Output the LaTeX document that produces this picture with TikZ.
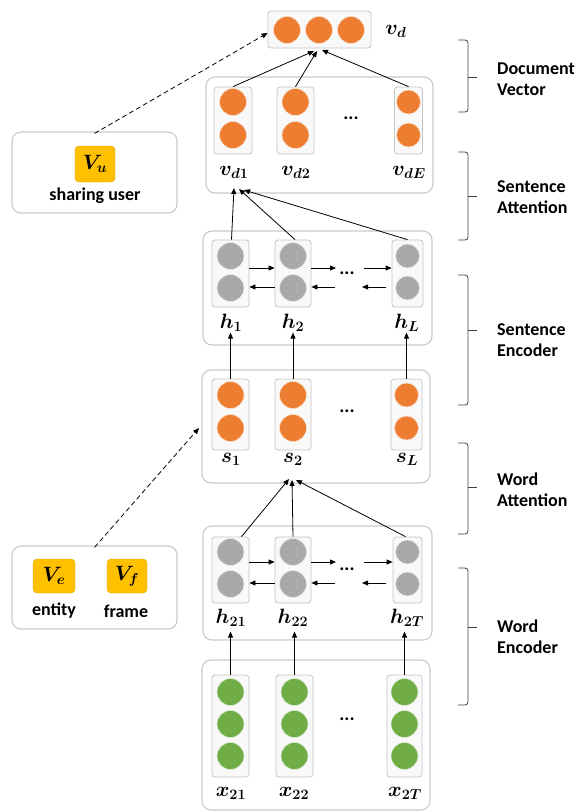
\documentclass[tikz,border=0pt]{standalone}
\usepackage{fontspec}
\setmainfont{Carlito}
\usepackage{bm}
\usetikzlibrary{arrows.meta,calc}
\definecolor{orangeC}{HTML}{ED7D31}
\definecolor{grayC}{HTML}{A9A9A9}
\definecolor{greenC}{HTML}{70AD47}
\definecolor{goldC}{HTML}{FFC000}
\definecolor{boxgray}{HTML}{CACACA}
\definecolor{colgray}{HTML}{C4C4C4}
\definecolor{colfill}{HTML}{F9F9F9}
\definecolor{bracegray}{HTML}{404040}
\begin{document}
\begin{tikzpicture}[x=1pt,y=-1pt,
  outer/.style={draw=boxgray, line width=1.1pt, rounded corners=9pt, fill=white},
  col/.style={draw=colgray, line width=0.8pt, rounded corners=3pt, fill=colfill, inner sep=0pt},
  dot/.style={circle, fill=#1, draw=white!75!#1, line width=0.6pt, inner sep=0pt, minimum size=27pt},
  sdot/.style={dot=#1, minimum size=24pt},
  ybox/.style={fill=goldC, draw=goldC!85!black, line width=0.4pt, rounded corners=4pt, inner sep=0pt},
  mlab/.style={font=\fontsize{19.5}{22}\selectfont, inner sep=0pt},
  lab/.style={font=\fontsize{18}{21}\selectfont\bfseries, inner sep=0pt},
  blab/.style={font=\fontsize{18}{21}\selectfont\bfseries, inner sep=0pt, align=left, anchor=west},
  dots/.style={font=\fontsize{19}{20}\selectfont\bfseries, inner sep=0pt},
  arr/.style={-{Triangle[length=6pt,width=5pt]}, line width=0.8pt, black},
  darr/.style={-{Triangle[length=6pt,width=5pt]}, line width=0.8pt, black, dash pattern=on 5pt off 3pt},
  brace/.style={draw=bracegray, line width=0.8pt, rounded corners=3pt}
]
\useasboundingbox (0,0) rectangle (579,812);

% ---------- top document vector ----------
\node[col, minimum width=103pt, minimum height=37pt] (vd) at (319.5,29.5) {};
\node[dot=orangeC] (vda) at (287,30) {};
\node[dot=orangeC] (vdb) at (319,30) {};
\node[dot=orangeC] (vdc) at (351,30) {};
\node[mlab] (lvd) at (396,31) {$\bm{v_d}$};

% ---------- document layer ----------
\node[outer, minimum width=227pt, minimum height=116pt] (dbox) at (319.5,135) {};
\node[col, minimum width=38pt, minimum height=67pt] (vd1) at (233,120.5) {};
\node[dot=orangeC] (vd1a) at (233,102) {};
\node[dot=orangeC] (vd1b) at (233,135) {};
\node[col, minimum width=37pt, minimum height=67pt] (vd2) at (295.5,120.5) {};
\node[dot=orangeC] (vd2a) at (295.5,102) {};
\node[dot=orangeC] (vd2b) at (295.5,135) {};
\node[col, minimum width=28pt, minimum height=67pt] (vdE) at (408.5,120.5) {};
\node[sdot=orangeC] (vdEa) at (408.5,102) {};
\node[sdot=orangeC] (vdEb) at (408.5,135) {};
\node[dots] (ddots) at (351,118) {...};
\node[mlab] (lvd1) at (234,172) {$\bm{v_{d1}}$};
\node[mlab] (lvd2) at (296,172) {$\bm{v_{d2}}$};
\node[mlab] (lvdE) at (409,172) {$\bm{v_{dE}}$};

% ---------- sentence encoder layer ----------
\node[outer, minimum width=229pt, minimum height=114pt] (hbox) at (317.5,288) {};
\node[col, minimum width=37pt, minimum height=67pt] (h1) at (230.5,273.5) {};
\node[dot=grayC] (h1a) at (230.5,256) {};
\node[dot=grayC] (h1b) at (230.5,288) {};
\node[col, minimum width=36pt, minimum height=67pt] (h2) at (293,273.5) {};
\node[dot=grayC] (h2a) at (293,256) {};
\node[dot=grayC] (h2b) at (293,288) {};
\node[col, minimum width=31pt, minimum height=67pt] (hL) at (407.5,273.5) {};
\node[sdot=grayC] (hLa) at (407.5,256) {};
\node[sdot=grayC] (hLb) at (407.5,288) {};
\node[dots] (hdots) at (347,273) {...};
\coordinate (hf1) at (336,268);
\coordinate (hf2) at (364,268);
\coordinate (hb1) at (335,287);
\coordinate (hb2) at (386,287);
\draw[arr] (h1.east |- hf1) -- (h2.west |- hf1);
\draw[arr] (h2.east |- hf1) -- (hf1);
\draw[arr] (hf2) -- (hL.west |- hf2);
\draw[arr] (h2.west |- hb1) -- (h1.east |- hb1);
\draw[arr] (hb1) -- (h2.east |- hb1);
\draw[arr] (hb2) -- ($(hb2)+(-24,0)$) coordinate (hb3);
\node[mlab] (lh1) at (231,323) {$\bm{h_1}$};
\node[mlab] (lh2) at (293,323) {$\bm{h_2}$};
\node[mlab] (lhL) at (407,323) {$\bm{h_L}$};

% ---------- sentence vectors ----------
\node[outer, minimum width=228pt, minimum height=113pt] (sbox) at (316,426.5) {};
\node[col, minimum width=37pt, minimum height=71pt] (s1) at (230.5,414.5) {};
\node[dot=orangeC] (s1a) at (230.5,395) {};
\node[dot=orangeC] (s1b) at (230.5,428) {};
\node[col, minimum width=36pt, minimum height=71pt] (s2) at (293,414.5) {};
\node[dot=orangeC] (s2a) at (293,395) {};
\node[dot=orangeC] (s2b) at (293,428) {};
\node[col, minimum width=31pt, minimum height=71pt] (sL) at (406.5,414.5) {};
\node[sdot=orangeC] (sLa) at (406.5,395) {};
\node[sdot=orangeC] (sLb) at (406.5,428) {};
\node[dots] (sdots) at (347,411) {...};
\node[mlab] (ls1) at (231,459) {$\bm{s_1}$};
\node[mlab] (ls2) at (293,459) {$\bm{s_2}$};
\node[mlab] (lsL) at (407,459) {$\bm{s_L}$};

% ---------- word encoder layer ----------
\node[outer, minimum width=229pt, minimum height=114pt] (wbox) at (317.5,583) {};
\node[col, minimum width=37pt, minimum height=66pt] (h21) at (230.5,570) {};
\node[dot=grayC] (h21a) at (230.5,552) {};
\node[dot=grayC] (h21b) at (230.5,584) {};
\node[col, minimum width=36pt, minimum height=66pt] (h22) at (293,570) {};
\node[dot=grayC] (h22a) at (293,552) {};
\node[dot=grayC] (h22b) at (293,584) {};
\node[col, minimum width=29pt, minimum height=66pt] (h2T) at (407.5,570) {};
\node[sdot=grayC] (h2Ta) at (407.5,552) {};
\node[sdot=grayC] (h2Tb) at (407.5,584) {};
\node[dots] (wdots) at (347,569) {...};
\coordinate (wf1) at (336,562);
\coordinate (wf2) at (364,562);
\coordinate (wb1) at (335,583);
\coordinate (wb2) at (386,583);
\draw[arr] (h21.east |- wf1) -- (h22.west |- wf1);
\draw[arr] (h22.east |- wf1) -- (wf1);
\draw[arr] (wf2) -- (h2T.west |- wf2);
\draw[arr] (h22.west |- wb1) -- (h21.east |- wb1);
\draw[arr] (wb1) -- (h22.east |- wb1);
\draw[arr] (wb2) -- ($(wb2)+(-24,0)$) coordinate (wb3);
\node[mlab] (lh21) at (231,618) {$\bm{h_{21}}$};
\node[mlab] (lh22) at (293,618) {$\bm{h_{22}}$};
\node[mlab] (lh2T) at (407,618) {$\bm{h_{2T}}$};

% ---------- word vectors ----------
\node[outer, minimum width=228pt, minimum height=150pt] (xbox) at (316,735) {};
\node[col, minimum width=37pt, minimum height=102pt] (x21) at (230.5,726) {};
\node[dot=greenC] (x21a) at (230.5,692) {};
\node[dot=greenC] (x21b) at (230.5,724) {};
\node[dot=greenC] (x21c) at (230.5,756) {};
\node[col, minimum width=37pt, minimum height=102pt] (x22) at (294.5,726) {};
\node[dot=greenC] (x22a) at (294.5,692) {};
\node[dot=greenC] (x22b) at (294.5,724) {};
\node[dot=greenC] (x22c) at (294.5,756) {};
\node[col, minimum width=35pt, minimum height=102pt] (x2T) at (404.5,726) {};
\node[dot=greenC] (x2Ta) at (404.5,692) {};
\node[dot=greenC] (x2Tb) at (404.5,724) {};
\node[dot=greenC] (x2Tc) at (404.5,756) {};
\node[dots] (xdots) at (347,719) {...};
\node[mlab] (lx21) at (231,793) {$\bm{x_{21}}$};
\node[mlab] (lx22) at (294,793) {$\bm{x_{22}}$};
\node[mlab] (lx2T) at (405,793) {$\bm{x_{2T}}$};

% ---------- side boxes ----------
\node[outer, minimum width=165pt, minimum height=81pt] (ubox) at (94.5,172.5) {};
\node[ybox, minimum width=40pt, minimum height=36pt] (Vu) at (95,164) {\fontsize{19.5}{22}\selectfont$\bm{V_u}$};
\node[lab] (lu) at (95,196) {sharing user};

\node[outer, minimum width=165pt, minimum height=83pt] (ebox) at (94.5,587.5) {};
\node[ybox, minimum width=42pt, minimum height=34pt] (Ve) at (54,576) {\fontsize{19.5}{22}\selectfont$\bm{V_e}$};
\node[ybox, minimum width=40pt, minimum height=34pt] (Vf) at (127,576) {\fontsize{19.5}{22}\selectfont$\bm{V_f}$};
\node[lab] (le) at (54,611) {entity};
\node[lab] (lf) at (126,611) {frame};

% ---------- connectors ----------
% document vector
\coordinate (t1) at (314,51);
\coordinate (t2) at (317,51);
\coordinate (t3) at (322,50);
\draw[arr] (vd1.north) -- (t1);
\draw[arr] (vd2.north) -- (t2);
\draw[arr] (vdE.north) -- (t3);
% sentence attention
\coordinate (a1) at (234,188);
\coordinate (a2) at (239,189);
\coordinate (a3) at (244,190);
\draw[arr] ([xshift=1pt]h1.north) -- (a1);
\draw[arr] ([xshift=2pt]h2.north) -- (a2);
\draw[arr] (hL.north) -- (a3);
% sentence encoder inputs
\draw[arr] (s1.north) -- ($(s1.north)+(0,-46)$) coordinate (u1);
\draw[arr] (s2.north) -- ($(s2.north)+(0,-46)$) coordinate (u2);
\draw[arr] (sL.north) -- ($(sL.north)+(0,-46)$) coordinate (u3);
% word attention
\coordinate (w1) at (289,479);
\coordinate (w2) at (292,480);
\coordinate (w3) at (296,480);
\draw[arr] ([xshift=11pt]h21.north) -- (w1);
\draw[arr] (h22.north) -- (w2);
\draw[arr] ([xshift=-2pt]h2T.north) -- (w3);
% word encoder inputs
\draw[arr] (x21.north) -- ($(x21.north)+(0,-43)$) coordinate (v1);
\draw[arr] (x22.north) -- ($(x22.north)+(0,-43)$) coordinate (v2);
\draw[arr] (x2T.north) -- ($(x2T.north)+(0,-43)$) coordinate (v3);
% dashed side connectors
\draw[darr] ([yshift=-2pt]ubox.north) -- (vd.west |- 0,33);
\draw[darr] ([yshift=-2pt]ebox.north) -- (199,428);

% ---------- braces ----------
\draw[brace] (458,40) -- (468,40) -- (468,77);
\draw[brace] (468,77) -- (468,112) -- (458,112);
\draw[draw=bracegray, line width=0.8pt] (468,77) -- (477,77);
\node[blab] (b1) at (497,79) {Document\\Vector};

\draw[brace] (458,152) -- (468,152) -- (468,196);
\draw[brace] (468,196) -- (468,240) -- (458,240);
\draw[draw=bracegray, line width=0.8pt] (468,196) -- (477,196);
\node[blab] (b2) at (497,197) {Sentence\\Attention};

\draw[brace] (458,275) -- (468,275) -- (468,330);
\draw[brace] (468,330) -- (468,405) -- (458,405);
\draw[draw=bracegray, line width=0.8pt] (468,330) -- (477,330);
\node[blab] (b3) at (497,340) {Sentence\\Encoder};

\draw[brace] (458,443) -- (468,443) -- (468,487);
\draw[brace] (468,487) -- (468,534) -- (458,534);
\draw[draw=bracegray, line width=0.8pt] (468,487) -- (477,487);
\node[blab] (b4) at (497,490) {Word\\Attention};

\draw[brace] (458,568) -- (468,568) -- (468,627);
\draw[brace] (468,627) -- (468,705) -- (458,705);
\draw[draw=bracegray, line width=0.8pt] (468,627) -- (477,627);
\node[blab] (b5) at (497,637) {Word\\Encoder};
\end{tikzpicture}
\end{document}
